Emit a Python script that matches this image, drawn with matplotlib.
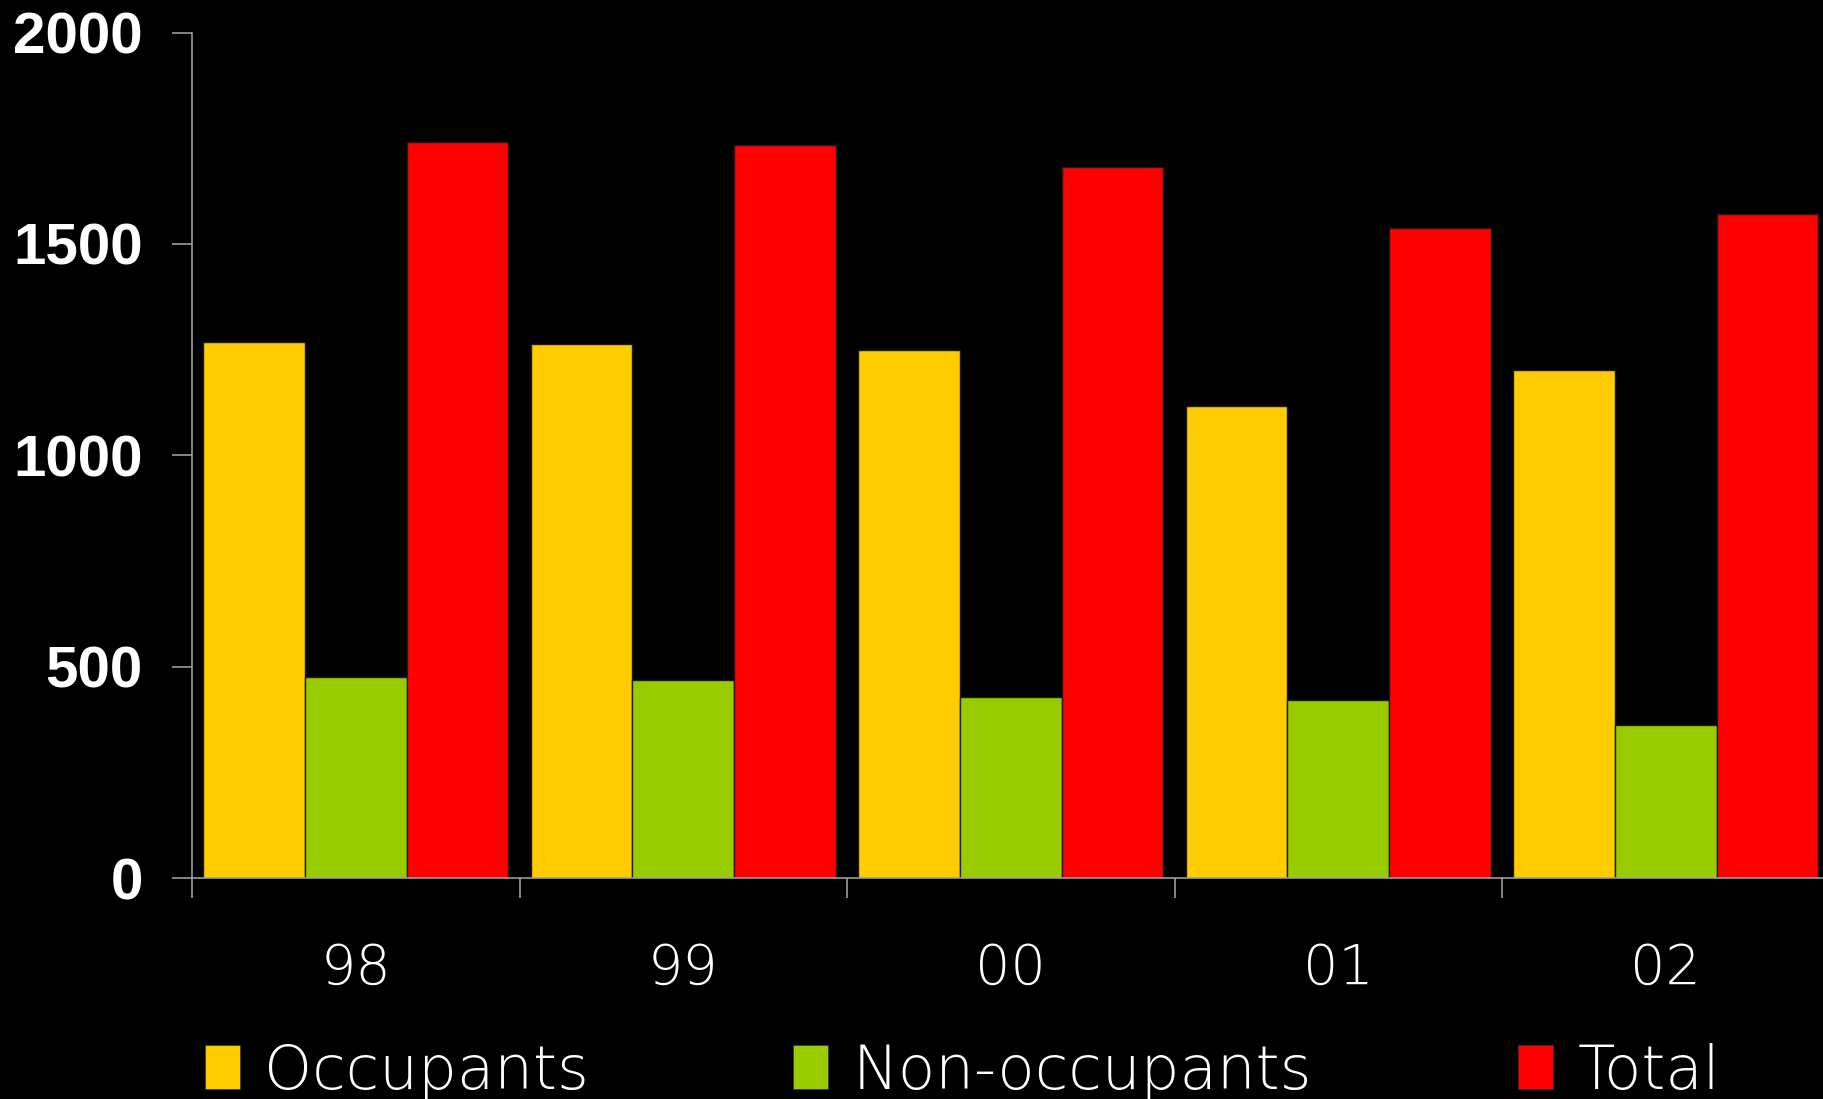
import numpy as np
import matplotlib
matplotlib.use("Agg")
import matplotlib.pyplot as plt
from matplotlib.patches import Patch

# data
years = ["98", "99", "00", "01", "02"]
occupants = [1268, 1263, 1249, 1117, 1202]
non_occupants = [476, 468, 429, 421, 363]
total = [1741, 1733, 1681, 1538, 1571]
series_names = ["Occupants", "Non-occupants", "Total"]
colors = ["#FFCC00", "#99CC00", "#FF0000"]

W, H = 1824, 1099
fig = plt.figure(figsize=(W / 100, H / 100), dpi=100, facecolor="black")
# axes placed in pixels (left, bottom, width, height)
ax = fig.add_axes([192 / W, 221 / H, 1637.5 / W, 845.4 / H], facecolor="black")

x = np.arange(len(years))
bw = 0.31
for i, vals in enumerate([occupants, non_occupants, total]):
    ax.bar(x + (i - 1) * bw, vals, width=bw, color=colors[i],
           edgecolor="#1a1a1a", linewidth=1.0, zorder=2)

ax.set_xlim(-0.5, 4.5)
ax.set_ylim(0, 2000)

axis_col = "#a8a8a8"
for side in ["top", "right"]:
    ax.spines[side].set_visible(False)
for side in ["left", "bottom"]:
    ax.spines[side].set_color(axis_col)
    ax.spines[side].set_linewidth(1.1)

ax.set_yticks([0, 500, 1000, 1500, 2000])
ax.tick_params(axis="y", which="major", length=14.4, width=1.1, color=axis_col,
               pad=21, labelcolor="white")
for lab in ax.get_yticklabels():
    lab.set_fontfamily("Liberation Sans")
    lab.set_fontweight("bold")
    lab.set_fontsize(42)

light = {"family": "DejaVu Sans", "weight": "light"}

# group boundaries as major ticks, year labels as minor ticks
ax.set_xticks(np.arange(len(years)) - 0.5)
ax.set_xticklabels([])
ax.tick_params(axis="x", which="major", length=14.4, width=1.1, color=axis_col)
ax.set_xticks(x, minor=True)
ax.set_xticklabels(years, minor=True)
ax.tick_params(axis="x", which="minor", length=0, pad=46, labelcolor="white")
for lab in ax.get_xticklabels(minor=True):
    lab.set_fontfamily(light["family"])
    lab.set_fontweight(light["weight"])
    lab.set_fontsize(40)

# one legend entry per series, at the reference's x positions
legend_x = [205, 793, 1518]
for name, col, lx in zip(series_names, colors, legend_x):
    h = Patch(facecolor=col, edgecolor="#333333", linewidth=0.5)
    leg = fig.legend([h], [name], loc="center left",
                     bbox_to_anchor=(lx / W, 27 / H), frameon=False,
                     prop=dict(light, size=44),
                     handlelength=0.57, handleheight=0.72, handletextpad=0.4,
                     borderpad=0, borderaxespad=0)
    for t in leg.get_texts():
        t.set_color("white")

fig.savefig("out.png", dpi=100, facecolor="black")
